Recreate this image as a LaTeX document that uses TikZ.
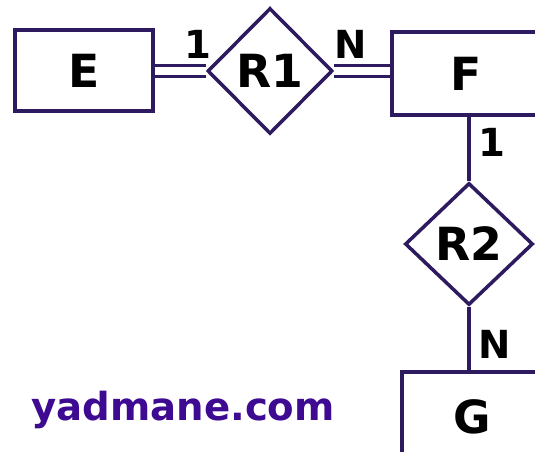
\documentclass[tikz,border=0pt]{standalone}
\usepackage{fontspec}
\setmainfont{DejaVu Sans}
\usepackage{xcolor}
\usetikzlibrary{shapes.geometric}
\definecolor{erline}{HTML}{2E1A5E}
\definecolor{sitepurple}{HTML}{3D0A91}
\tikzset{
  entity/.style={draw=erline,line width=2pt,rectangle,font=\fontsize{26}{30}\selectfont\bfseries},
  relation/.style={draw=erline,line width=2pt,diamond,inner sep=0pt,font=\fontsize{26}{30}\selectfont\bfseries},
  card/.style={font=\fontsize{22}{26}\selectfont\bfseries},
  link/.style={draw=erline,line width=2pt},
  total/.style={link,double=white,double distance=4.2pt}
}
\begin{document}
\begin{tikzpicture}[x=0.02cm,y=-0.02cm]
\useasboundingbox[fill=white](0,0)rectangle(535,452);
\clip(0,0)rectangle(535,452);
\node[entity,minimum width=2.76cm,minimum height=1.62cm](E)at(84,70.5){E};
\node[relation,minimum width=2.5cm,minimum height=2.52cm](R1)at(270,71){R1};
\node[entity,minimum width=2.96cm,minimum height=1.66cm](F)at(466,73.5){F};
\node[relation,minimum width=2.56cm,minimum height=2.44cm](R2)at(469,244){R2};
\node[entity,minimum width=2.8cm,minimum height=1.8cm](G)at(472,417){G};
\draw[total](E.east|-R1.west)--node[card,pos=0.85,above=3pt]{1}(R1.west);
\draw[total](R1.east)--node[card,pos=0.3,above=3pt]{N}(R1.east-|F.west);
\draw[link](F.south-|R2.north)--node[card,pos=0.4,right=1pt]{1}(R2.north);
\draw[link](R2.south)--node[card,pos=0.6,right=1pt]{N}(R2.south|-G.north);
\node[text=sitepurple,font=\fontsize{22}{28}\selectfont\bfseries](site)at(183,410){yadmane.com};
\end{tikzpicture}
\end{document}
